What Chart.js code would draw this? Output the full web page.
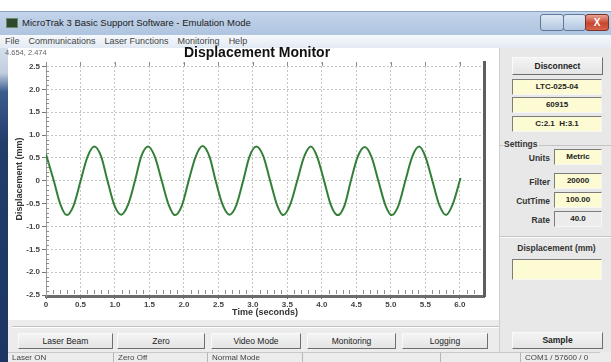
<!DOCTYPE html>
<html><head><meta charset="utf-8">
<script src="https://cdn.jsdelivr.net/npm/chart.js@4.4.0/dist/chart.umd.min.js"></script>
<style>
*{box-sizing:border-box}
body{margin:0;width:611px;height:362px;overflow:hidden;background:#fff;font-family:"Liberation Sans",Arial,sans-serif;position:relative;color:#222}
.a{position:absolute}
#titlebar{left:0;top:11px;width:611px;height:24px;background:linear-gradient(#c3d4ea,#aec4df);border-top:1px solid #8aa4c6}
#icon{left:6px;top:6px;width:12px;height:10px;background:#2d4a2d;border:1px solid #6a8a6a}
#ttext{left:22px;top:5px;font-size:9.5px;color:#1b1b1b;white-space:nowrap}
.wb{top:2px;height:17px;border:1px solid #5f7897;border-radius:3px;background:linear-gradient(#dfe9f5,#b3c7e0);}
#bmin{left:540px;width:24px}
#bmax{left:563px;width:23px}
#bclose{left:585px;width:24px;background:linear-gradient(#e9a393,#c6462f 55%,#d8644c);border-color:#7a3328;color:#fff;font-size:10px;font-weight:bold;text-align:center;line-height:15px}
#menubar{left:0;top:35px;width:611px;height:13px;background:linear-gradient(#f6f9fd,#e3eaf3);font-size:9px;color:#444;white-space:nowrap;padding-left:5px;line-height:12px}
#menubar span{margin-right:9px}
#strip{left:0;top:48px;width:8px;height:314px;background:linear-gradient(#d5dfec 0%,#c0cde0 8%,#3c5c8c 14%,#213d6c 30%,#1c3564 100%)}
#coords{left:5px;top:48px;font-size:7.5px;color:#666}
#chartwrap{left:9px;top:45px;width:496px;height:276px}
#bottom{left:8px;top:320px;width:493px;height:32px;background:#ececec}
#grpline{left:12px;top:326px;width:489px;height:2px;border-top:1px solid #c2c2c2;border-bottom:1px solid #fff}
.btn{height:16px;background:linear-gradient(#f4f4f4,#e4e4e4);border:1px solid;border-color:#fafafa #6e6e6e #6e6e6e #fafafa;font-size:8.5px;text-align:center;line-height:14px;color:#222;white-space:nowrap}
#panel{left:499px;top:48px;width:112px;height:304px;background:#e8e8e8;border-left:1px solid #cfcfcf}
.fld{height:16px;background:#fdfbd3;border:1px solid;border-color:#7c7c7c #f6f6f6 #f6f6f6 #7c7c7c;font-size:8px;font-weight:bold;text-align:center;line-height:14px;color:#222;white-space:nowrap}
.lbl{font-size:8.5px;font-weight:bold;color:#333;text-align:right;width:48px;white-space:nowrap}
#status{left:8px;top:352px;width:603px;height:10px;background:#ececec;font-size:8px;color:#444;line-height:10px}
.seg{top:0;height:10px;border-left:1px solid #b5b5b5;border-top:1px solid #c9c9c9;padding-left:4px;white-space:nowrap}
</style></head><body>
<div id="titlebar" class="a">
  <div id="icon" class="a"></div>
  <div id="ttext" class="a">MicroTrak 3 Basic Support Software - Emulation Mode</div>
  <div id="bmin" class="a wb"></div>
  <div id="bmax" class="a wb"></div>
  <div id="bclose" class="a wb">X</div>
</div>
<div id="menubar" class="a"><span>File</span><span>Communications</span><span>Laser Functions</span><span>Monitoring</span><span>Help</span></div>
<div id="strip" class="a"></div>
<div id="chartwrap" class="a"><canvas id="c" width="496" height="276"></canvas></div>
<div id="coords" class="a">4.654, 2.474</div>
<div id="bottom" class="a"></div>
<div id="grpline" class="a"></div>
<div class="a btn" style="left:18px;top:333px;width:95px">Laser Beam</div>
<div class="a btn" style="left:117px;top:333px;width:88px">Zero</div>
<div class="a btn" style="left:211px;top:333px;width:90px">Video Mode</div>
<div class="a btn" style="left:307px;top:333px;width:89px">Monitoring</div>
<div class="a btn" style="left:402px;top:333px;width:86px">Logging</div>
<div id="panel" class="a"></div>
<div class="a btn" style="left:512px;top:57px;width:91px;height:18px;line-height:16px;font-weight:bold">Disconnect</div>
<div class="a fld" style="left:512px;top:79px;width:90px">LTC-025-04</div>
<div class="a fld" style="left:512px;top:97px;width:90px">60915</div>
<div class="a fld" style="left:512px;top:116px;width:90px">C:2.1&nbsp; H:3.1</div>
<div class="a" style="left:500px;top:145px;width:111px;height:1px;background:#c4c4c4"></div>
<div class="a" style="left:503px;top:139px;font-size:8.5px;font-weight:bold;color:#333;background:#e8e8e8;padding:0 1px">Settings</div>
<div class="a lbl" style="left:502px;top:153px">Units</div>
<div class="a fld" style="left:554px;top:149px;width:48px">Metric</div>
<div class="a lbl" style="left:502px;top:177px">Filter</div>
<div class="a fld" style="left:554px;top:173px;width:48px">20000</div>
<div class="a lbl" style="left:502px;top:196px">CutTime</div>
<div class="a fld" style="left:554px;top:192px;width:48px">100.00</div>
<div class="a lbl" style="left:502px;top:215px">Rate</div>
<div class="a fld" style="left:554px;top:211px;width:48px;background:#ececec">40.0</div>
<div class="a" style="left:500px;top:236px;width:111px;height:2px;border-top:1px solid #c4c4c4;border-bottom:1px solid #fafafa"></div>
<div class="a" style="left:502px;top:243px;width:109px;text-align:center;font-size:8.5px;font-weight:bold;color:#333">Displacement (mm)</div>
<div class="a fld" style="left:512px;top:259px;width:90px;height:21px"></div>
<div class="a btn" style="left:512px;top:332px;width:91px;height:17px;font-weight:bold">Sample</div>
<div id="status" class="a">
  <div class="a seg" style="left:0;width:105px;border-left:none">Laser ON</div>
  <div class="a seg" style="left:105px;width:94px">Zero Off</div>
  <div class="a seg" style="left:199px;width:95px">Normal Mode</div>
  <div class="a seg" style="left:294px;width:138px"></div>
  <div class="a seg" style="left:432px;width:80px"></div>
  <div class="a seg" style="left:512px;width:80px">COM1 / 57600 / 0</div>
</div>
<script>
// ---- data ----
const timeSec = [
  0.00, 0.11, 0.21, 0.30, 0.40, 0.50, 0.60, 0.70,
  0.80, 0.89, 0.99, 1.09, 1.19, 1.29, 1.38, 1.48,
  1.58, 1.68, 1.78, 1.87, 1.97, 2.07, 2.17, 2.27,
  2.37, 2.46, 2.56, 2.66, 2.76, 2.86, 2.95, 3.05,
  3.15, 3.25, 3.35, 3.44, 3.54, 3.64, 3.74, 3.84,
  3.93, 4.03, 4.13, 4.23, 4.33, 4.42, 4.52, 4.62,
  4.72, 4.82, 4.92, 5.01, 5.11, 5.21, 5.31, 5.41,
  5.50, 5.60, 5.70, 5.80, 5.90, 6.01
];
const displacementMm = [
  0.58, 0.02, -0.52, -0.75, -0.54, -0.01, 0.52, 0.75,
  0.53, 0.01, -0.53, -0.74, -0.52, 0.00, 0.53, 0.75,
  0.52, -0.01, -0.53, -0.75, -0.54, 0.01, 0.53, 0.76,
  0.53, 0.00, -0.52, -0.74, -0.53, 0.01, 0.53, 0.75,
  0.54, 0.00, -0.53, -0.75, -0.52, -0.01, 0.52, 0.75,
  0.53, 0.01, -0.53, -0.75, -0.53, 0.00, 0.53, 0.74,
  0.52, -0.01, -0.53, -0.75, -0.54, 0.00, 0.53, 0.75,
  0.53, 0.01, -0.52, -0.75, -0.50, 0.06
];
const xTickValues = [0, 0.5, 1.0, 1.5, 2.0, 2.5, 3.0, 3.5, 4.0, 4.5, 5.0, 5.5, 6.0];
const yTickValues = [-2.5, -2.0, -1.5, -1.0, -0.5, 0, 0.5, 1.0, 1.5, 2.0, 2.5];
const xRange = [0, 6.35];
const yRange = [-2.52, 2.6];

const points = timeSec.map((t, i) => ({x: t, y: displacementMm[i]}));
const fmt = v => (v === 0 ? '0' : v.toFixed(1));
const tickFont = {family: '"Liberation Sans", Arial, sans-serif', size: 8, weight: 'bold'};

const minorTicks = {
  id: 'minorTicks',
  afterDraw(chart) {
    const {ctx, chartArea: a, scales: {x, y}} = chart;
    ctx.save();
    ctx.strokeStyle = '#8c8c8c';
    ctx.lineWidth = 1;
    ctx.beginPath();
    for (let i = 1; i <= 63; i++) {
      if (i % 5 === 0) continue;
      const px = Math.round(x.getPixelForValue(i / 10)) + 0.5;
      if (px > a.right - 3) break;
      ctx.moveTo(px, a.bottom - 2); ctx.lineTo(px, a.bottom - 6);
    }
    xTickValues.forEach(v => {
      const px = Math.round(x.getPixelForValue(v)) + 0.5;
      ctx.moveTo(px, a.top); ctx.lineTo(px, a.top + 4);
    });
    for (let i = -25; i <= 25; i++) {
      if (i % 5 === 0) continue;
      const py = Math.round(y.getPixelForValue(i / 10)) + 0.5;
      ctx.moveTo(a.left, py); ctx.lineTo(a.left + 3, py);
    }
    ctx.stroke();
    ctx.restore();
  }
};

new Chart(document.getElementById('c'), {
  type: 'scatter',
  data: {datasets: [{
    data: points, showLine: true, borderColor: '#347f38', borderWidth: 2,
    pointRadius: 0, cubicInterpolationMode: 'monotone', fill: false
  }]},
  options: {
    responsive: false, animation: false, devicePixelRatio: 1,
    layout: {padding: 0},
    plugins: {
      legend: {display: false}, tooltip: {enabled: false},
      title: {display: true, text: 'Displacement Monitor', color: '#111',
        font: {family: '"Liberation Sans", Arial, sans-serif', size: 14, weight: 'bold', lineHeight: 1},
        padding: {top: 1, bottom: 2}}
    },
    scales: {
      x: {type: 'linear', min: xRange[0], max: xRange[1],
        afterBuildTicks: s => { s.ticks = xTickValues.map(v => ({value: v})); },
        afterFit: s => { s.height = 25; },
        ticks: {callback: v => fmt(v), color: '#444', font: tickFont, padding: 1, maxRotation: 0, autoSkip: false},
        grid: {color: '#c4c4c4', tickColor: '#666', tickLength: 3, lineWidth: 1},
        border: {color: '#6c6c6c', width: 3, dash: [2, 2], display: true},
        title: {display: true, text: 'Time (seconds)', color: '#333',
          font: {family: '"Liberation Sans", Arial, sans-serif', size: 9, weight: 'bold'}, padding: {top: 0, bottom: 3}}
      },
      y: {type: 'linear', min: yRange[0], max: yRange[1],
        afterBuildTicks: s => { s.ticks = yTickValues.map(v => ({value: v})); },
        afterFit: s => { s.width = 37; },
        ticks: {callback: v => fmt(v), color: '#444', font: tickFont, padding: 2, autoSkip: false},
        grid: {color: '#c4c4c4', tickColor: '#777', tickLength: 4, lineWidth: 1},
        border: {color: '#9a9a9a', width: 1, dash: [2, 2]},
        title: {display: true, text: 'Displacement (mm)', color: '#333',
          font: {family: '"Liberation Sans", Arial, sans-serif', size: 9, weight: 'bold'}, padding: {top: 5, bottom: 0}}
      },
      yR: {type: 'linear', position: 'right', min: yRange[0], max: yRange[1],
        afterFit: s => { s.width = 21; },
        ticks: {display: false}, grid: {display: false, drawTicks: false},
        border: {color: '#5e5e5e', width: 3}
      }
    }
  },
  plugins: [minorTicks]
});
</script>
</body></html>
